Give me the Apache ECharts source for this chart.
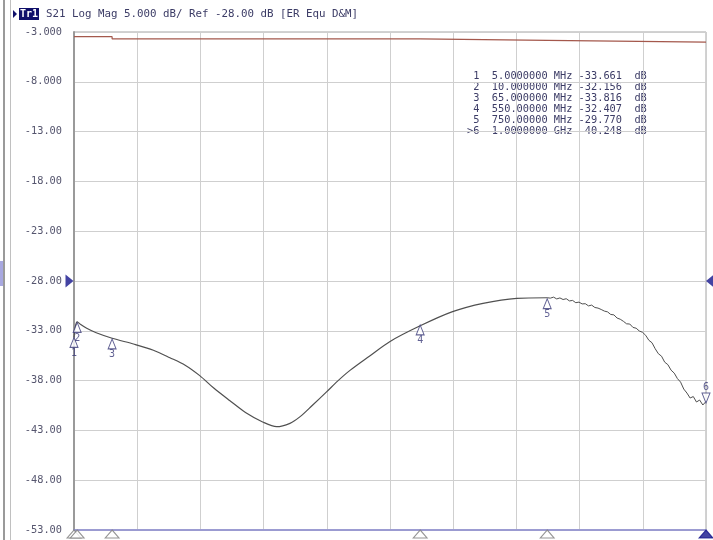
<!DOCTYPE html>
<html><head><meta charset="utf-8">
<script src="https://cdn.jsdelivr.net/npm/echarts@6/dist/echarts.min.js"></script>
<style>html,body{margin:0;padding:0;background:#fff}#c{width:713px;height:540px}</style>
</head><body><div id="c"></div>
<script>
// ---- data ----
const startFreq = 5, stopFreq = 1000;          // MHz
const yMin = -53, yMax = -3;                   // dB
const refLevel = -28;
const yTickLabels = ['-53.00','-48.00','-43.00','-38.00','-33.00','-28.00','-23.00','-18.00','-13.00','-8.000','-3.000'];

// smooth part of S21 trace
const traceFreqs = [5,7,10,15,25,40,65,100,130,156,180,203,225,250,275,302,324,345,361,380,403,420,440,470,502,550,601,649,702,750];
const traceVals  = [-33.66,-32.6,-32.10,-32.35,-32.75,-33.2,-33.75,-34.35,-34.95,-35.7,-36.45,-37.5,-38.75,-40.0,-41.2,-42.15,-42.63,-42.29,-41.62,-40.5,-39.11,-38.05,-36.95,-35.55,-34.09,-32.5,-31.08,-30.24,-29.74,-29.68];

// noisy upper part of the trace
const noiseFreqs = [750,755,760,765,770,775,780,785,790,795,800,805,810,815,820,825,830,835,840,845,850,855,860,865,870,875,880,885,890,895,900,905,910,915,920,925,930,935,940,945,950,955,960,965,970,975,980,985,990,995,1000];
const noiseVals  = [-29.68,-29.72,-29.62,-29.80,-29.70,-29.86,-29.78,-30.00,-29.95,-30.18,-30.12,-30.30,-30.28,-30.50,-30.42,-30.66,-30.72,-30.86,-31.02,-31.10,-31.36,-31.40,-31.72,-31.84,-32.05,-32.30,-32.32,-32.66,-32.74,-33.02,-33.15,-33.45,-33.95,-34.20,-34.80,-35.30,-35.55,-36.15,-36.40,-36.95,-37.25,-37.80,-38.15,-38.85,-39.25,-39.75,-39.60,-40.15,-39.95,-40.45,-40.10];

// memory / thru trace (brown)
const memFreqs = [5,65,550,750,1000];
const memVals  = [-3.47,-3.70,-3.85,-4.02,-4.02];

// markers
const markerNums  = ['1','2','3','4','5','>6'];
const markerFreqs = [5,10,65,550,750,1000];
const markerVals  = [-33.661,-32.156,-33.816,-32.407,-29.770,-40.248];
const markerFreqText = ['5.0000000 MHz','10.000000 MHz','65.000000 MHz','550.00000 MHz','750.00000 MHz','1.0000000 GHz'];

// ---- chart ----
const FONT = '"DejaVu Sans Mono", monospace';
const triUp = 'path://M5,0 L10,10 L0,10 Z';
const triDown = 'path://M0,0 L10,0 L5,10 Z';
const triRight = 'path://M0,0 L10,5 L0,10 Z';
const triLeft = 'path://M10,0 L0,5 L10,10 Z';

const zip = (a, b) => a.map((v, i) => [v, b[i]]);

const markerTrace = markerFreqs.map((f, i) => {
  const last = i === markerFreqs.length - 1;
  return {
    value: [f, markerVals[i]],
    symbol: last ? triDown : triUp,
    symbolOffset: last ? [0, -5] : [0, 5],
    label: {position: last ? 'top' : 'bottom', distance: 0,
      formatter: markerNums[i].replace('>', '')}
  };
});
const markerAxis = markerFreqs.map((f, i) => {
  const last = i === markerFreqs.length - 1;
  return {
    value: [f, yMin],
    itemStyle: last ? {color: '#14148c', borderColor: '#14148c'} : {color: '#fff', borderColor: '#7a7a7a'}
  };
});

const graphics = [
  {type: 'rect', shape: {x: 0, y: 261, width: 3, height: 25}, style: {fill: '#a8a8e0'}},
  {type: 'line', shape: {x1: 4, y1: 0, x2: 4, y2: 540}, style: {stroke: '#9a9a9a', lineWidth: 2}},
  {type: 'line', shape: {x1: 10.5, y1: 0, x2: 10.5, y2: 540}, style: {stroke: '#c0c0c0', lineWidth: 1}},
  {type: 'polygon', shape: {points: [[13, 10], [17, 14], [13, 18]]}, style: {fill: '#10106a'}},
  {type: 'rect', shape: {x: 19, y: 8, width: 20, height: 12}, style: {fill: '#10106a'}},
  {type: 'text', x: 20, y: 14, style: {text: 'Tr1', fill: '#fff', font: 'bold 10px ' + FONT, textVerticalAlign: 'middle'}},
  {type: 'text', x: 46, y: 14, style: {text: 'S21 Log Mag 5.000 dB/ Ref -28.00 dB [ER Equ D&M]', fill: '#3c3c66', font: '10.8px ' + FONT, textVerticalAlign: 'middle'}}
];
markerNums.forEach((n, i) => {
  const v = markerVals[i].toFixed(3);
  const line = n.padStart(2, ' ') + '  ' + markerFreqText[i] + ' ' + v + '  dB';
  graphics.push({type: 'text', x: 467, y: 76 + i * 11, style: {text: line, fill: '#3c3c66', font: '10.3px ' + FONT, textVerticalAlign: 'middle'}});
});

const chart = echarts.init(document.getElementById('c'), null, {renderer: 'canvas'});
chart.setOption({
  animation: false,
  backgroundColor: '#fff',
  grid: {left: 74, right: 7, top: 32, bottom: 10, show: true, borderColor: '#a4a4a4', borderWidth: 1, backgroundColor: 'transparent'},
  xAxis: [
    {type: 'value', min: startFreq, max: stopFreq, show: false},
    {type: 'value', min: 0, max: 10, interval: 1, position: 'bottom',
      axisLine: {show: true, lineStyle: {color: '#8a8ad2', width: 1.5}},
      axisTick: {show: false}, axisLabel: {show: false},
      splitLine: {show: true, lineStyle: {color: '#cfcfcf', width: 1}}}
  ],
  yAxis: [
    {type: 'value', min: yMin, max: yMax, show: false},
    {type: 'value', min: 0, max: 10, interval: 1, position: 'left',
      axisLine: {show: true, lineStyle: {color: '#9a9a9a', width: 2}},
      axisTick: {show: false},
      axisLabel: {show: true, margin: 12, formatter: v => yTickLabels[v], color: '#55556e', fontFamily: FONT, fontSize: 10.3},
      splitLine: {show: true, lineStyle: {color: '#cfcfcf', width: 1}}}
  ],
  graphic: graphics,
  series: [
    {type: 'line', xAxisIndex: 0, yAxisIndex: 0, data: zip(memFreqs, memVals), step: 'end', showSymbol: false,
      lineStyle: {color: '#a4584c', width: 1.2}, z: 3},
    {type: 'line', xAxisIndex: 0, yAxisIndex: 0, data: zip(traceFreqs, traceVals), smooth: 0.3, showSymbol: false,
      lineStyle: {color: '#505050', width: 1.2}, z: 3},
    {type: 'line', xAxisIndex: 0, yAxisIndex: 0, data: zip(noiseFreqs, noiseVals), showSymbol: false,
      lineStyle: {color: '#505050', width: 1}, z: 3},
    {type: 'scatter', xAxisIndex: 0, yAxisIndex: 0, clip: false, data: markerTrace, symbolSize: [8, 10], z: 5,
      itemStyle: {color: '#fff', borderColor: '#3a3a78', borderWidth: 1},
      label: {show: true, color: '#3a3a78', fontFamily: FONT, fontSize: 10}},
    {type: 'scatter', xAxisIndex: 0, yAxisIndex: 0, clip: false, data: markerAxis, symbol: triUp, symbolSize: [14, 8], symbolOffset: [0, 4], z: 5,
      itemStyle: {borderWidth: 1}},
    {type: 'scatter', xAxisIndex: 0, yAxisIndex: 0, clip: false, z: 6,
      data: [
        {value: [startFreq, refLevel], symbol: triRight, symbolOffset: [-4.5, 0]},
        {value: [stopFreq, refLevel], symbol: triLeft, symbolOffset: [4, 0]}
      ],
      symbolSize: [8, 13], itemStyle: {color: '#14148c'}}
  ]
});
</script></body></html>
